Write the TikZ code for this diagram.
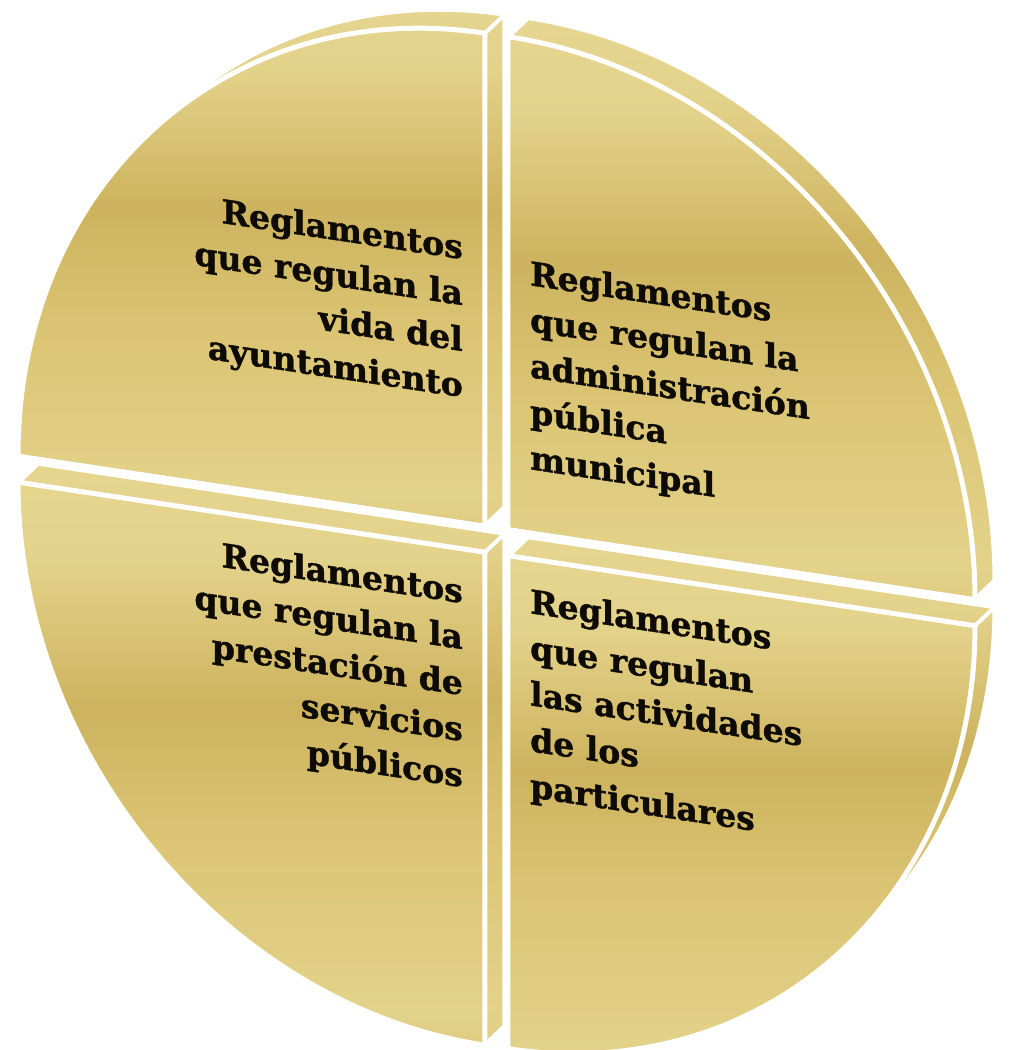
\documentclass[tikz,border=0pt]{standalone}
\usepackage{fontspec}
\setmainfont{DejaVu Serif}[BoldFeatures={FakeBold=1.2}]
\definecolor{oroA}{HTML}{E8DA98}
\definecolor{oroB}{HTML}{DCC676}
\definecolor{oroC}{HTML}{CDB35E}
\definecolor{oroD}{HTML}{E3D28A}
\definecolor{tinta}{HTML}{0E0B05}
\pgfdeclareverticalshading{oro}{100bp}{color(0bp)=(oroB); color(12bp)=(oroC); color(28bp)=(oroD); color(42bp)=(oroB); color(55bp)=(oroC); color(68bp)=(oroD); color(85bp)=(oroA); color(100bp)=(oroD)}
\tikzset{
  cara/.style={shading=oro, draw=white, line width=5pt, line join=round},
  canto/.style={shading=oro, draw=white, line width=5pt, line join=round},
  arista/.style={draw=white, line width=4pt, line cap=round},
  texto/.style={font=\fontsize{33}{46}\selectfont\bfseries, text=tinta, inner sep=0pt, transform shape}
}
\begin{document}
\begin{tikzpicture}[x=1pt, y=1pt]
  % Definir radios y profundidad
  \def\rx{467pt} % radio horizontal
  \def\ry{493pt} % radio vertical
  \def\ang{136.2} % angulo del contorno

  \useasboundingbox (-497,-509) rectangle (520,541);

  \begin{scope}[yslant=-0.15]
    % Cantos de los cuatro sectores
    \path[canto] (-12,13) -- (8,35) -- (8,528)
      arc[start angle=90, end angle=\ang, x radius=\rx, y radius=\ry] -- ++(-20,-22)
      arc[start angle=\ang, end angle=180, x radius=\rx, y radius=\ry] -- cycle;
    \path[canto] (11,13) -- (478,13) -- (498,35)
      arc[start angle=0, end angle=90, x radius=\rx, y radius=\ry] -- (11,506) -- cycle;
    \path[canto] (-479,-13) -- (-459,9) -- (8,9) -- (8,-484) -- (-12,-506)
      arc[start angle=270, end angle=180, x radius=\rx, y radius=\ry] -- cycle;
    \path[canto] (11,-13) -- (31,9) -- (498,9)
      arc[start angle=0, end angle=\ang-180, x radius=\rx, y radius=\ry] -- ++(-20,-22)
      arc[start angle=\ang-180, end angle=-90, x radius=\rx, y radius=\ry] -- cycle;

    % Caras frontales
    \path[cara] (-12,13) -- (-12,506)
      arc[start angle=90, end angle=180, x radius=\rx, y radius=\ry] -- cycle;
    \path[cara] (11,13) -- (478,13)
      arc[start angle=0, end angle=90, x radius=\rx, y radius=\ry] -- cycle;
    \path[cara] (-12,-13) -- (-12,-506)
      arc[start angle=270, end angle=180, x radius=\rx, y radius=\ry] -- cycle;
    \path[cara] (11,-13) -- (478,-13)
      arc[start angle=0, end angle=-90, x radius=\rx, y radius=\ry] -- cycle;

    % Aristas
    \coordinate (tlT) at (-12,506);
    \coordinate (tlTb) at (8,528);
    \coordinate (blC) at (-12,-13);
    \coordinate (blCb) at (8,9);
    \coordinate (brR) at (478,-13);
    \coordinate (brRb) at (498,9);
    \draw[arista] (tlT) -- (tlTb);
    \draw[arista] (blC) -- (blCb);
    \draw[arista] (brR) -- (brRb);

    % Textos
    \node[texto, anchor=north east, align=right] (vida) at (-34,302)
      {Reglamentos\\que regulan la\\vida del\\ayuntamiento};
    \node[texto, anchor=north west, align=left] (admin) at (33,286)
      {Reglamentos\\que regulan la\\administración\\pública\\municipal};
    \node[texto, anchor=north east, align=right] (servicios) at (-34,-42)
      {Reglamentos\\que regulan la\\prestación de\\servicios\\públicos};
    \node[texto, anchor=north west, align=left] (particulares) at (33,-42)
      {Reglamentos\\que regulan\\las actividades\\de los\\particulares};
  \end{scope}
\end{tikzpicture}
\end{document}
